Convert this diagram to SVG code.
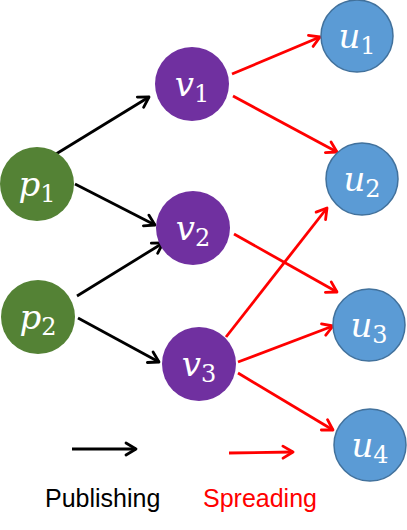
<svg xmlns="http://www.w3.org/2000/svg" width="407" height="530" viewBox="0 0 407 530">
<style>
.p{fill:#548235}
.v{fill:#7030A0}
.u{fill:#5B9BD5;stroke:#41719C;stroke-width:1.5}
.lbl{fill:#fff;font-family:"DejaVu Serif",serif;font-style:italic;font-size:34px;text-anchor:middle}
.sub{font-style:normal;font-size:24px}
.blk{stroke:#000;stroke-width:2.8;fill:none;marker-end:url(#ab)}
.red{stroke:#FF0000;stroke-width:2.8;fill:none;marker-end:url(#ar)}
.leg{font-family:"Liberation Sans",Arial,sans-serif;font-size:25px}
</style>
<defs>
<marker id="ab" viewBox="0 0 14 16" refX="12" refY="8" markerWidth="14" markerHeight="16" markerUnits="userSpaceOnUse" orient="auto">
<path d="M2,2 L12,8 L2,14" fill="none" stroke="#000" stroke-width="2.8" stroke-linecap="round" stroke-linejoin="round"/>
</marker>
<marker id="ar" viewBox="0 0 14 16" refX="12" refY="8" markerWidth="14" markerHeight="16" markerUnits="userSpaceOnUse" orient="auto">
<path d="M2,2 L12,8 L2,14" fill="none" stroke="#FF0000" stroke-width="2.8" stroke-linecap="round" stroke-linejoin="round"/>
</marker>
</defs>
<g id="connectors">
<line class="blk" x1="56" y1="154" x2="149" y2="97"/>
<line class="blk" x1="75" y1="184" x2="155" y2="225"/>
<line class="blk" x1="77" y1="296" x2="163" y2="243"/>
<line class="blk" x1="78" y1="318" x2="159" y2="362"/>
<line class="red" x1="232" y1="74" x2="320" y2="37"/>
<line class="red" x1="233" y1="96" x2="337" y2="152"/>
<line class="red" x1="234" y1="234" x2="337" y2="292"/>
<line class="red" x1="226" y1="337" x2="327" y2="208"/>
<line class="red" x1="238" y1="362" x2="333" y2="326"/>
<line class="red" x1="238" y1="373" x2="333" y2="430"/>
</g>
<g id="p1"><circle class="p" cx="37" cy="184" r="37"/><text class="lbl" x="37" y="196">p<tspan class="sub" dy="6">1</tspan></text></g>
<g id="p2"><circle class="p" cx="38" cy="317" r="37"/><text class="lbl" x="38" y="329">p<tspan class="sub" dy="6">2</tspan></text></g>
<g id="v1"><circle class="v" cx="192" cy="84" r="37"/><text class="lbl" x="192" y="96">v<tspan class="sub" dy="6">1</tspan></text></g>
<g id="v2"><circle class="v" cx="193" cy="228" r="37"/><text class="lbl" x="193" y="240">v<tspan class="sub" dy="6">2</tspan></text></g>
<g id="v3"><circle class="v" cx="199" cy="364" r="37"/><text class="lbl" x="199" y="376">v<tspan class="sub" dy="6">3</tspan></text></g>
<g id="u1"><circle class="u" cx="357" cy="36" r="36"/><text class="lbl" x="357" y="48">u<tspan class="sub" dy="6">1</tspan></text></g>
<g id="u2"><circle class="u" cx="362" cy="179" r="36"/><text class="lbl" x="362" y="191">u<tspan class="sub" dy="6">2</tspan></text></g>
<g id="u3"><circle class="u" cx="369" cy="325" r="36"/><text class="lbl" x="369" y="337">u<tspan class="sub" dy="6">3</tspan></text></g>
<g id="u4"><circle class="u" cx="370" cy="445" r="36"/><text class="lbl" x="370" y="457">u<tspan class="sub" dy="6">4</tspan></text></g>
<g id="legend">
<line class="blk" x1="72" y1="449" x2="136" y2="449"/>
<line class="red" x1="229" y1="453" x2="293" y2="452"/>
<text class="leg" x="45" y="507" fill="#000">Publishing</text>
<text class="leg" x="203" y="507" fill="#FF0000">Spreading</text>
</g>
</svg>
